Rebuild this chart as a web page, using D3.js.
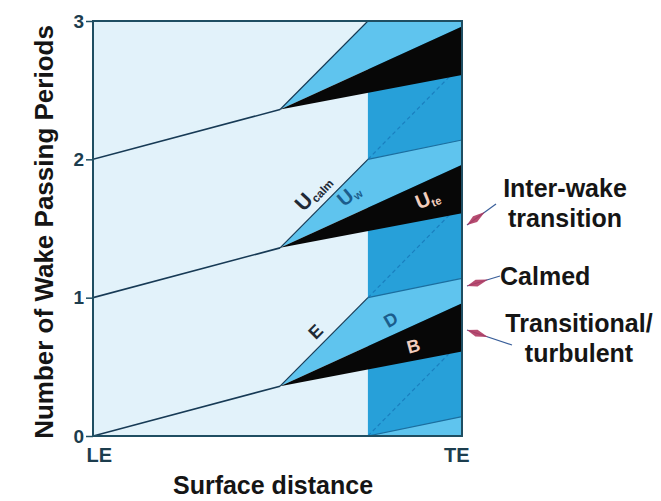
<!DOCTYPE html>
<html>
<head>
<meta charset="utf-8">
<script src="https://cdn.jsdelivr.net/npm/d3@7"></script>
<style>
  html, body { margin: 0; padding: 0; background: #ffffff; }
  svg { display: block; }
  text { font-family: "Liberation Sans", Arial, sans-serif; }
</style>
</head>
<body>
<svg id="chart" width="661" height="501"></svg>
<script>
// ---------------- data (data units: x = surface distance LE..TE, y = wake passing periods) ----------------
const periods = [-1, 0, 1, 2];                 // wake passing periods drawn (pattern repeats each period)
const yTicks = [0, 1, 2, 3];
const xTickLabels = ["LE", "TE"];
const xTickValues = [0, 1];
const wakePath = [[0, 0], [0.507, 0.36]];       // laminar wake trajectory up to transition onset
const leadingEdge = [[0.507, 0.36], [0.745, 1.0]];   // leading edge of turbulent spot (E)
const calmedEdge = [[0.745, 1.0], [1.0, 1.14]];      // end of calmed region after transition
const leadingEdgeExt = [[0.745, 1.0], [1.0, 1.69]];  // dashed extension
const trailingEdge = [[0.507, 0.36], [1.0, 0.96]];   // trailing edge of turbulent strip
const turbulentLower = [[0.507, 0.36], [1.0, 0.61]]; // lower edge of turbulent strip
const interWakeStart = 0.745;                        // start of inter-wake transition zone
const sideLabels = [["Inter-wake", "transition"], ["Calmed"], ["Transitional/", "turbulent"]];

// ---------------- layout ----------------
const svg = d3.select("#chart");
const x = d3.scaleLinear().domain([0, 1]).range([93, 462]);
const y = d3.scaleLinear().domain([0, 3]).range([436, 21]);

const C = {
  pale: "#e2f2fa", light: "#5fc4ee", dark: "#27a0d9", black: "#070707",
  frame: "#1f4e62", line: "#173a55", text: "#151515"
};

svg.append("defs").append("clipPath").attr("id", "plotclip")
  .append("rect").attr("x", x(0)).attr("y", y(3)).attr("width", x(1) - x(0)).attr("height", y(0) - y(3));

const g = svg.append("g").attr("clip-path", "url(#plotclip)");
const P = (pt, n) => [x(pt[0]), y(pt[1] + n)];
const line = d3.line();

// background
g.append("rect").attr("x", x(0)).attr("y", y(3)).attr("width", x(1) - x(0)).attr("height", y(0) - y(3))
  .attr("fill", C.pale);
g.append("rect").attr("x", x(interWakeStart)).attr("y", y(3))
  .attr("width", x(1) - x(interWakeStart)).attr("height", y(0) - y(3)).attr("fill", C.dark);

// dashed extensions in the inter-wake zone
periods.forEach(n => {
  g.append("path").attr("d", line(leadingEdgeExt.map(p => P(p, n))))
    .attr("stroke", "#1a7fbf").attr("stroke-width", 1.2).attr("stroke-dasharray", "4,3").attr("fill", "none");
});

// calmed (light blue) regions
periods.forEach(n => {
  const poly = [leadingEdge[0], leadingEdge[1], calmedEdge[1], trailingEdge[1]].map(p => P(p, n));
  g.append("path").attr("d", line(poly) + "Z").attr("fill", C.light);
});
// turbulent (black) strips
periods.forEach(n => {
  const poly = [trailingEdge[0], trailingEdge[1], turbulentLower[1]].map(p => P(p, n));
  g.append("path").attr("d", line(poly) + "Z").attr("fill", C.black);
});
// boundary lines
periods.forEach(n => {
  g.append("path").attr("d", line(wakePath.map(p => P(p, n))))
    .attr("stroke", C.line).attr("stroke-width", 1.6).attr("fill", "none");
  g.append("path").attr("d", line(leadingEdge.map(p => P(p, n))))
    .attr("stroke", C.line).attr("stroke-width", 1.2).attr("fill", "none");
  g.append("path").attr("d", line(calmedEdge.map(p => P(p, n))))
    .attr("stroke", "#1b6e9f").attr("stroke-width", 1.2).attr("fill", "none");
});

// frame
svg.append("rect").attr("x", x(0)).attr("y", y(3)).attr("width", x(1) - x(0)).attr("height", y(0) - y(3))
  .attr("fill", "none").attr("stroke", C.frame).attr("stroke-width", 2);

// y axis ticks + labels
const yAxis = d3.axisLeft(y).tickValues(yTicks).tickFormat(d3.format("d")).tickSize(7).tickPadding(2);
const ya = svg.append("g").attr("transform", `translate(${x(0)},0)`).call(yAxis);
ya.select(".domain").remove();
ya.selectAll(".tick line").attr("stroke", C.frame).attr("stroke-width", 1.5);
ya.selectAll(".tick text").attr("font-size", 19).attr("font-weight", "bold").attr("fill", "#1c3d4e")
  .attr("font-family", "Liberation Sans, Arial, sans-serif");

// x tick labels (LE / TE)
const xa = svg.append("g").attr("transform", `translate(0,${y(0)})`)
  .call(d3.axisBottom(x).tickValues(xTickValues).tickFormat((d, i) => xTickLabels[i]).tickSize(0).tickPadding(12));
xa.select(".domain").remove();
xa.selectAll(".tick text").attr("font-size", 20).attr("font-weight", "bold").attr("fill", "#1c3d4e")
  .attr("font-family", "Liberation Sans, Arial, sans-serif")
  .attr("text-anchor", (d, i) => i === 0 ? "start" : "end")
  .attr("dx", (d, i) => i === 0 ? -7 : 7);

// axis titles
svg.append("text").attr("transform", "translate(53,232) rotate(-90)").attr("text-anchor", "middle")
  .attr("font-size", 26).attr("font-weight", "bold").attr("fill", C.text).text("Number of Wake Passing Periods");
svg.append("text").attr("x", 273).attr("y", 494).attr("text-anchor", "middle")
  .attr("font-size", 25).attr("font-weight", "bold").attr("fill", C.text).text("Surface distance");

// in-plot labels
function lab(px, py, rot, main, sub, color, size) {
  const t = svg.append("text").attr("transform", `translate(${px},${py}) rotate(${rot})`)
    .attr("text-anchor", "middle").attr("font-size", size).attr("fill", color).attr("font-weight", "bold");
  t.append("tspan").text(main);
  if (sub) t.append("tspan").attr("font-size", size * 0.55).attr("dy", 3).text(sub);
}
lab(318, 197, -47, "U", "calm", "#1e2a36", 21);
lab(353, 200, -40, "U", "w", "#1b5d8c", 20);
lab(430, 205, -22, "U", "te", "#f2cdbd", 20);
lab(320, 336, -45, "E", null, "#1e2a36", 18);
lab(394, 325, -30, "D", null, "#1b5d8c", 18);
lab(415, 352, -15, "B", null, "#f2cdbd", 18);

// side labels
const sideX = [565, 500, 579], sideAnchor = ["middle", "start", "middle"], sideY = [197, 285, 332];
sideLabels.forEach((lines, i) => {
  const t = svg.append("text").attr("x", sideX[i]).attr("y", sideY[i]).attr("text-anchor", sideAnchor[i])
    .attr("font-size", 25).attr("font-weight", "bold").attr("fill", C.text);
  lines.forEach((s, j) => t.append("tspan").attr("x", sideX[i]).attr("dy", j ? 30 : 0).text(s));
});

// arrows
const arrows = [[[496, 204], [467, 225]], [[500, 276], [467, 286]], [[512, 345], [467, 330]]];
arrows.forEach(([a, b]) => {
  const dx = b[0] - a[0], dy = b[1] - a[1], L = Math.hypot(dx, dy), ux = dx / L, uy = dy / L;
  svg.append("line").attr("x1", a[0]).attr("y1", a[1]).attr("x2", b[0]).attr("y2", b[1])
    .attr("stroke", "#3a5f9a").attr("stroke-width", 1.2);
  const mid = [b[0] - ux * 10, b[1] - uy * 10];
  const tail = [b[0] - ux * 22, b[1] - uy * 22];
  const w = 3.5;
  const pts = [b, [mid[0] - uy * w, mid[1] + ux * w], tail, [mid[0] + uy * w, mid[1] - ux * w]];
  svg.append("path").attr("d", d3.line()(pts) + "Z").attr("fill", "#b03a62").attr("opacity", 0.9);
});
</script>
</body>
</html>
